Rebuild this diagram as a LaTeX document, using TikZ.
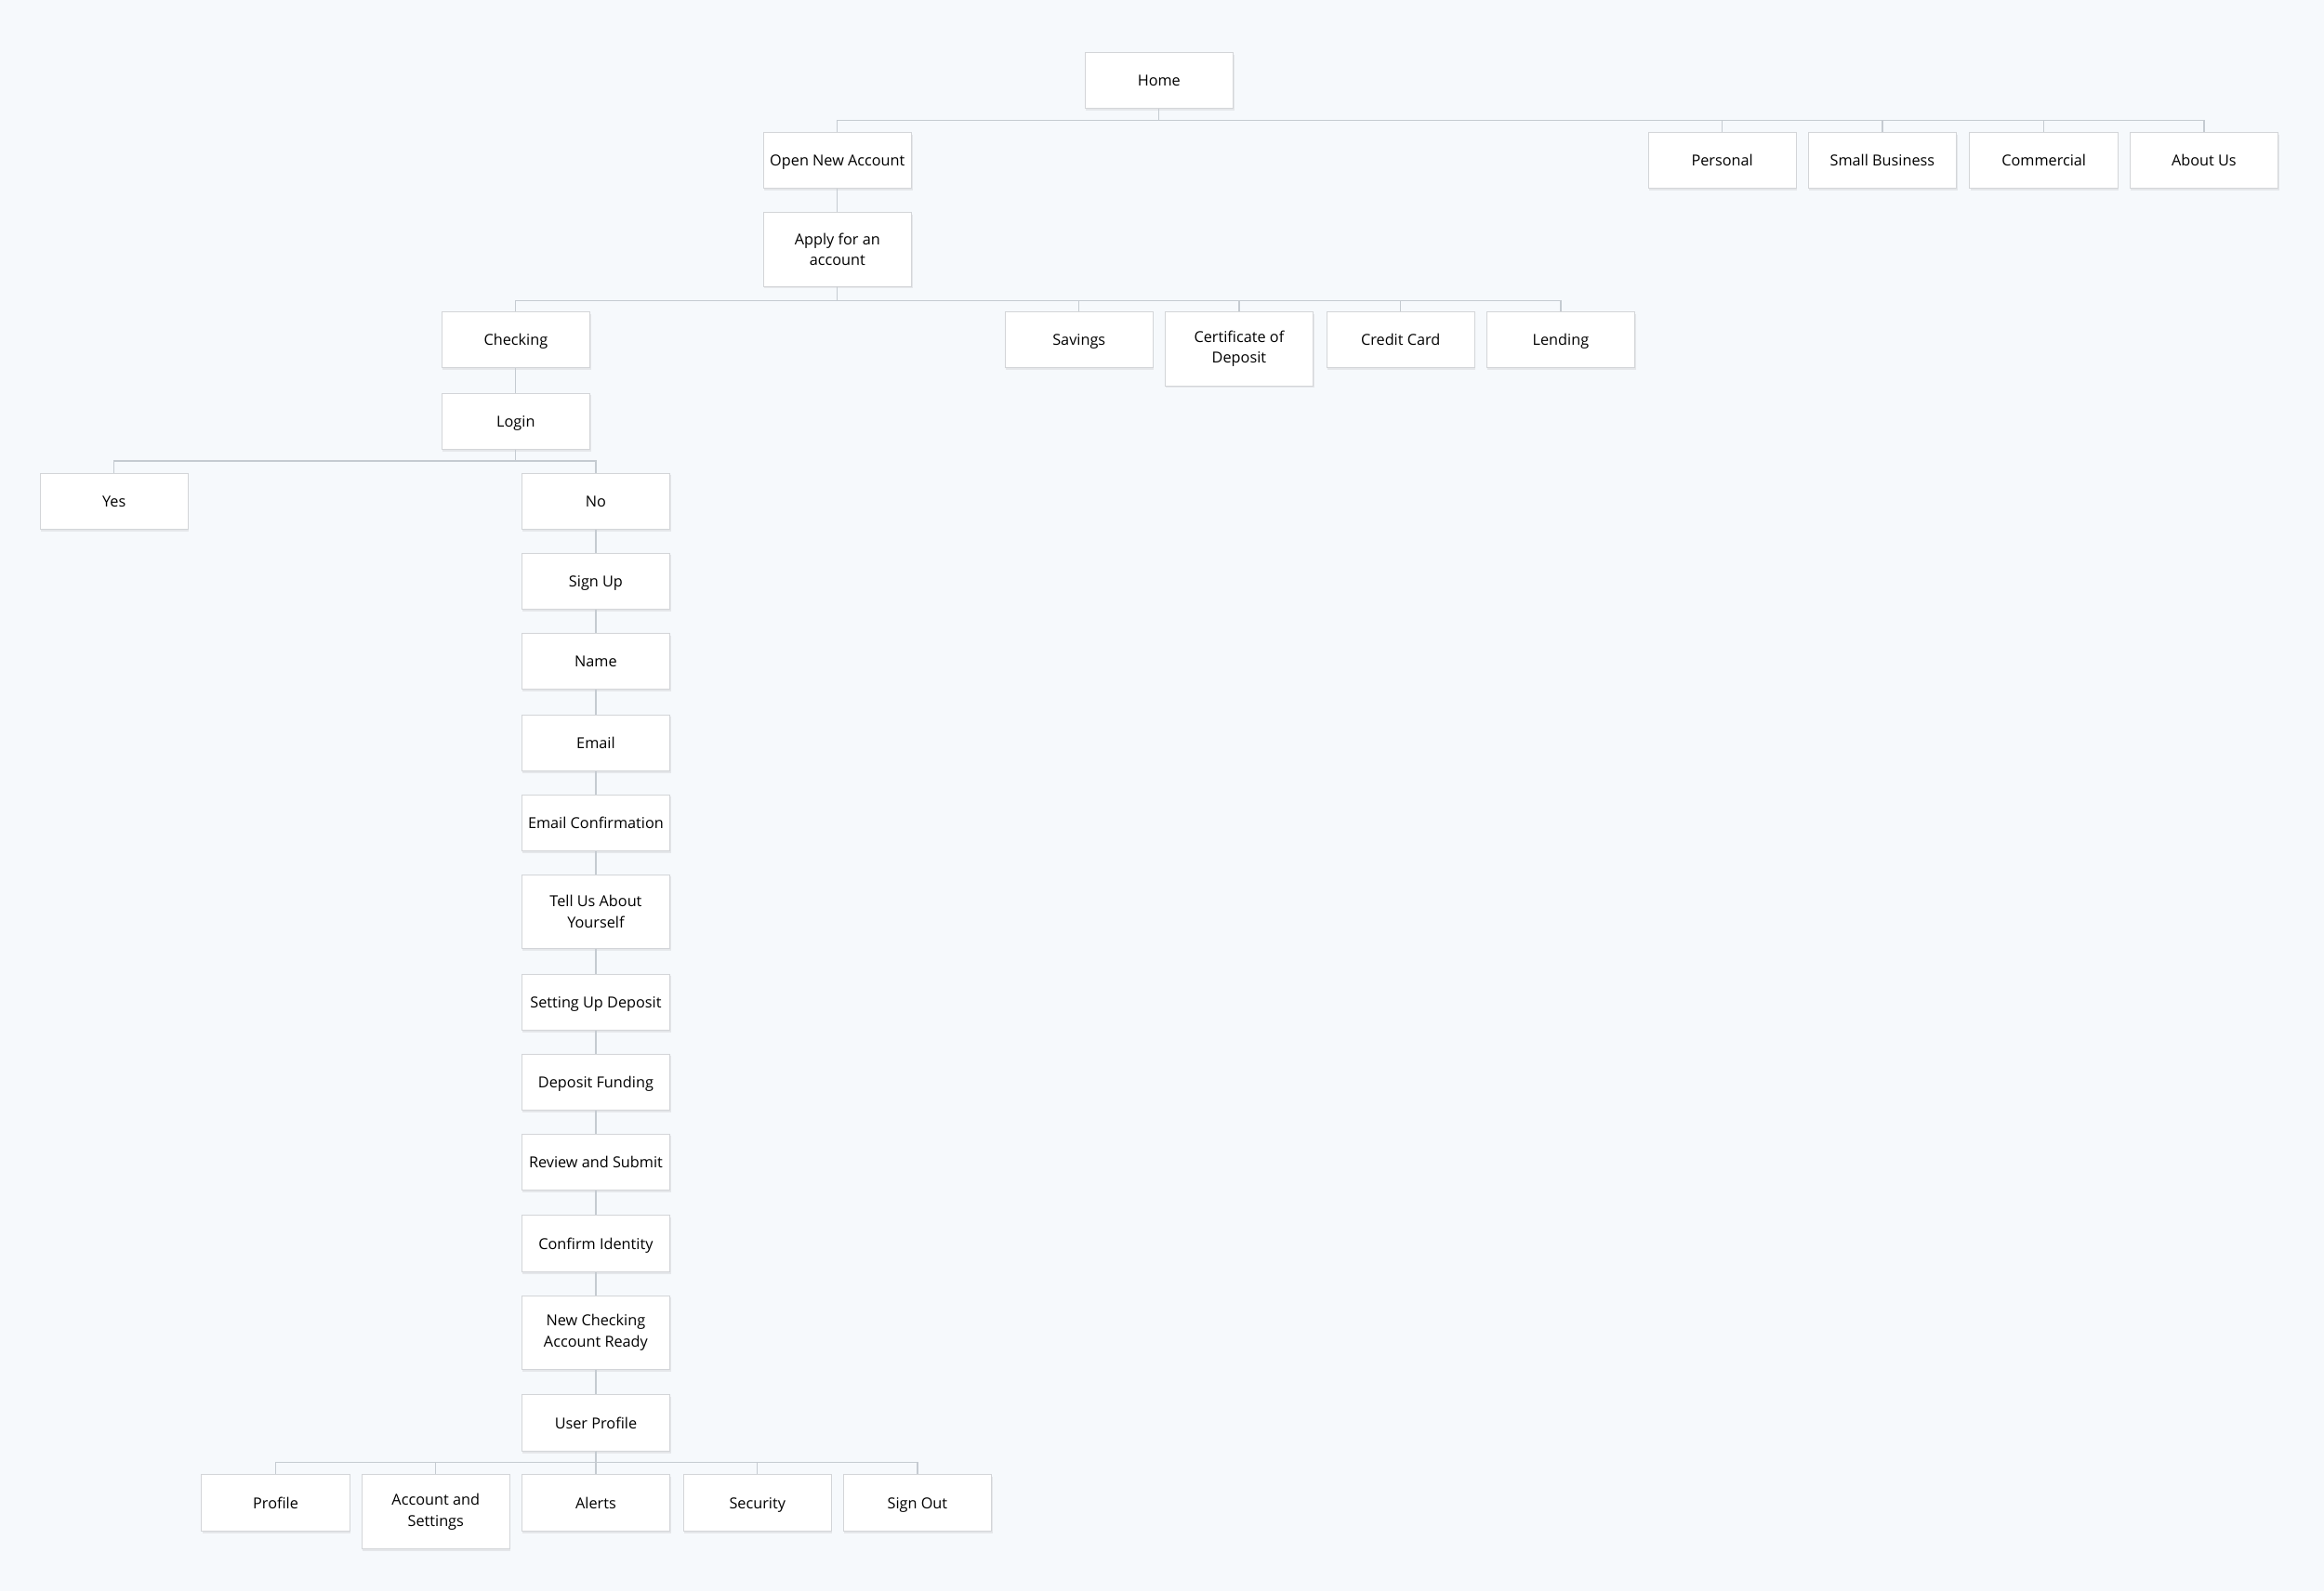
\documentclass[tikz,border=0pt]{standalone}
\usepackage{fontspec}
\setmainfont{Open Sans}
\usetikzlibrary{shadows}
\definecolor{bg}{HTML}{F6F9FC}
\definecolor{boxline}{HTML}{D3D5D8}
\definecolor{conncol}{HTML}{C5CBD1}
\tikzset{
  box/.style={draw=boxline, line width=0.6pt, fill=white, minimum width=100pt,
    inner xsep=3pt, inner ysep=0pt, minimum height=38pt, align=center,
    text height=8.4pt, text depth=0.6pt,
    font=\fontsize{10.2}{14}\selectfont, anchor=north,
    drop shadow={opacity=0.14, shadow xshift=0.6pt, shadow yshift=-1.4pt}},
  tall/.style={minimum height=50pt, text height=, text depth=},
  conn/.style={draw=conncol, line width=0.8pt}
}
\begin{document}
\begin{tikzpicture}[x=1pt,y=-1pt]
\useasboundingbox (0,0) rectangle (1568,1074);
\fill[bg] (0,0) rectangle (1568,1074);

% bus coordinates
\coordinate (b1) at (0,81);
\coordinate (b2) at (0,203);
\coordinate (b3) at (0,311);
\coordinate (b4) at (0,987);

% nodes
\node[box] (home) at (782,35) {Home};
\node[box] (ona) at (565,89) {Open New Account};
\node[box] (personal) at (1162,89) {Personal};
\node[box] (smallbiz) at (1270,89) {Small Business};
\node[box] (commercial) at (1379,89) {Commercial};
\node[box] (about) at (1487,89) {About Us};
\node[box,tall] (apply) at (565,143) {Apply for an\\account};
\node[box] (checking) at (348,210) {Checking};
\node[box] (savings) at (728,210) {Savings};
\node[box,tall] (cod) at (836,210) {Certificate of\\Deposit};
\node[box] (credit) at (945,210) {Credit Card};
\node[box] (lending) at (1053,210) {Lending};
\node[box] (login) at (348,265) {Login};
\node[box] (yes) at (77,319) {Yes};
\node[box] (no) at (402,319) {No};
\node[box] (signup) at (402,373) {Sign Up};
\node[box] (name) at (402,427) {Name};
\node[box] (email) at (402,482) {Email};
\node[box] (emailconf) at (402,536) {Email Confirmation};
\node[box,tall] (tellus) at (402,590) {Tell Us About\\Yourself};
\node[box] (setdep) at (402,657) {Setting Up Deposit};
\node[box] (depfund) at (402,711) {Deposit Funding};
\node[box] (review) at (402,765) {Review and Submit};
\node[box] (confirm) at (402,820) {Confirm Identity};
\node[box,tall] (newcheck) at (402,874) {New Checking\\Account Ready};
\node[box] (userprof) at (402,941) {User Profile};
\node[box] (profile) at (186,995) {Profile};
\node[box,tall] (accset) at (294,995) {Account and\\Settings};
\node[box] (alerts) at (402,995) {Alerts};
\node[box] (security) at (511,995) {Security};
\node[box] (signout) at (619,995) {Sign Out};

% connectors
\foreach \c in {ona,personal,smallbiz,commercial,about}
  \draw[conn] (home.south) -- (home.south |- b1) -| (\c.north);
\draw[conn] (ona.south) -- (apply.north);
\foreach \c in {checking,savings,cod,credit,lending}
  \draw[conn] (apply.south) -- (apply.south |- b2) -| (\c.north);
\draw[conn] (checking.south) -- (login.north);
\foreach \c in {yes,no}
  \draw[conn] (login.south) -- (login.south |- b3) -| (\c.north);
\draw[conn] (no.south) -- (signup.north);
\draw[conn] (signup.south) -- (name.north);
\draw[conn] (name.south) -- (email.north);
\draw[conn] (email.south) -- (emailconf.north);
\draw[conn] (emailconf.south) -- (tellus.north);
\draw[conn] (tellus.south) -- (setdep.north);
\draw[conn] (setdep.south) -- (depfund.north);
\draw[conn] (depfund.south) -- (review.north);
\draw[conn] (review.south) -- (confirm.north);
\draw[conn] (confirm.south) -- (newcheck.north);
\draw[conn] (newcheck.south) -- (userprof.north);
\foreach \c in {profile,accset,alerts,security,signout}
  \draw[conn] (userprof.south) -- (userprof.south |- b4) -| (\c.north);
\end{tikzpicture}
\end{document}
